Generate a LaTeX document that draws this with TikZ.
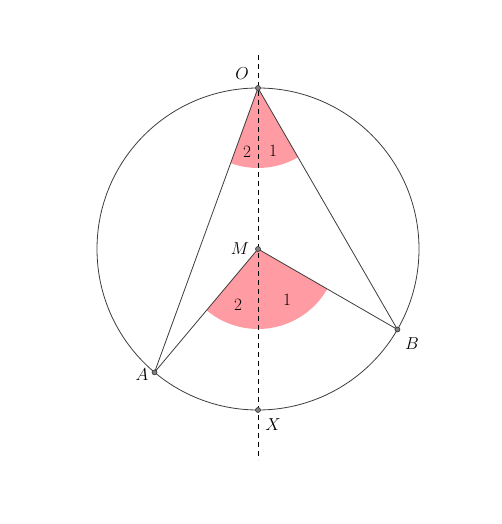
\documentclass[tikz,border=0pt]{standalone}
\usetikzlibrary{calc}
\definecolor{wedgefill}{RGB}{255,155,162}
\definecolor{linecol}{RGB}{60,60,60}
\tikzset{
  wedge/.style={fill=wedgefill},
  geo/.style={draw=linecol, line width=0.8pt},
  axis/.style={draw=black, dashed, line width=0.9pt, dash pattern=on 5pt off 4pt},
  pt/.style={circle, draw=black!80, fill=gray, inner sep=0pt, minimum size=5pt, line width=0.6pt},
  lab/.style={font=\fontsize{17.5}{20}\selectfont, inner sep=0pt},
}
\begin{document}
\begin{tikzpicture}[x=1pt,y=1pt]
\useasboundingbox (0,0) rectangle (502,524);
\coordinate (M) at (258,275);
\coordinate (O) at (258,436);
\coordinate (X) at (258,114);
\coordinate (A) at ($(M)+(230:161)$);
\coordinate (B) at ($(M)+(-30:161)$);
\coordinate (T) at (258,469);
\coordinate (U) at (258,64);
% wedges
\fill[wedge] (O) -- ++(250:80) arc[start angle=250, end angle=300, radius=80] -- cycle;
\fill[wedge] (M) -- ++(230:80) arc[start angle=230, end angle=330, radius=80] -- cycle;
% circle and lines
\draw[geo] (M) circle[radius=161];
\draw[geo] (A) -- (O) -- (B);
\draw[geo] (A) -- (M) -- (B);
\draw[axis] (T) -- (U);
% points
\node[pt] (o) at (O) {};
\node[pt] (m) at (M) {};
\node[pt] (a) at (A) {};
\node[pt] (b) at (B) {};
\node[pt] (x) at (X) {};
% labels
\node[lab] (lo) at (242,450) {$O$};
\node[lab] (lm) at (240,275) {$M$};
\node[lab] (la) at (142,149) {$A$};
\node[lab] (lb) at (412,180) {$B$};
\node[lab] (lx) at (273,99) {$X$};
\node[lab] (o2) at (247,372) {$2$};
\node[lab] (o1) at (273,373) {$1$};
\node[lab] (m2) at (238,219) {$2$};
\node[lab] (m1) at (287,224) {$1$};
\end{tikzpicture}
\end{document}
